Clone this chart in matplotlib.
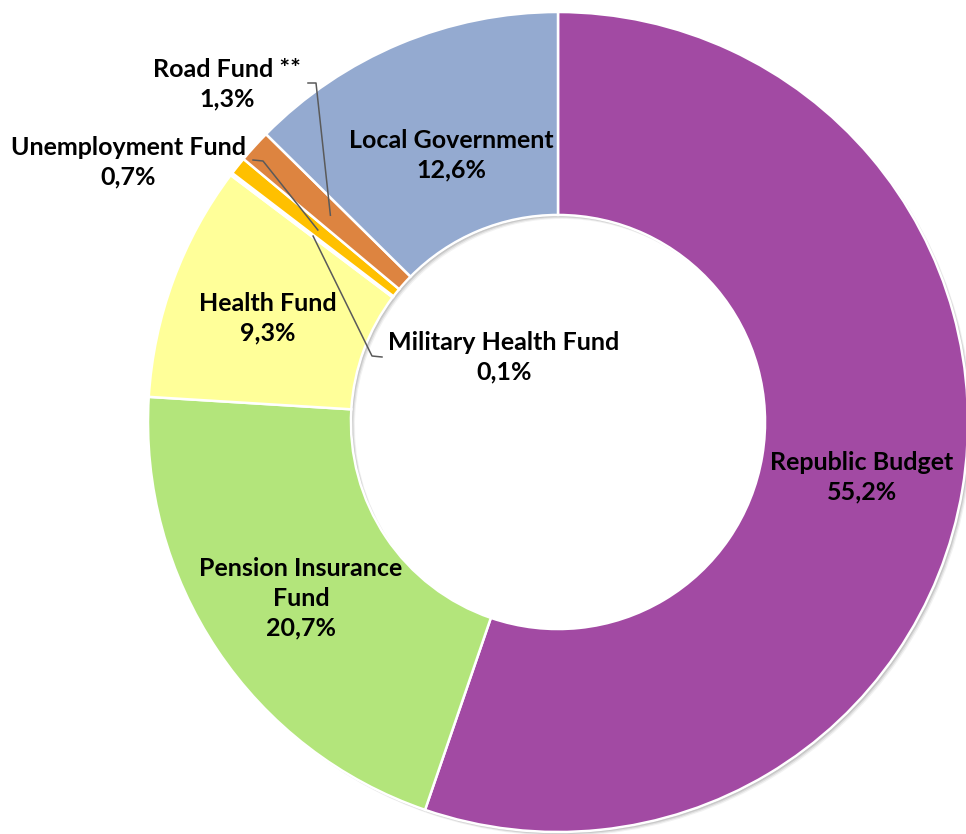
import numpy as np
import matplotlib
matplotlib.use("Agg")
import matplotlib.pyplot as plt

# data (clockwise from 12 o'clock)
names = ["Republic Budget", "Pension Insurance\nFund", "Health Fund",
         "Military Health Fund", "Unemployment Fund", "Road Fund **",
         "Local Government"]
shares = [55.2, 20.7, 9.3, 0.1, 0.7, 1.3, 12.6]
pct_labels = ["55,2%", "20,7%", "9,3%", "0,1%", "0,7%", "1,3%", "12,6%"]
colors = ["#A24AA3", "#B3E57B", "#FFFF99", "#A9C8EA", "#FFC000",
          "#DD8440", "#94AAD0"]

# layout in pixels of the 966x834 picture
CX, CY, R = 558, 422, 410


def px(x, y):
    return (x - CX) / R, (CY - y) / R


label_pos = {
    "Republic Budget": (862, 477),
    "Pension Insurance\nFund": (301, 598),
    "Health Fund": (268, 318),
    "Military Health Fund": (504, 357),
    "Unemployment Fund": (128, 162),
    "Road Fund **": (227, 84),
    "Local Government": (451, 155),
}
# elbows of the leader lines (label side)
leaders = {
    "Road Fund **": [(308, 83), (316, 83)],
    "Unemployment Fund": [(253, 160), (263, 161)],
    "Military Health Fund": [(382, 357), (372, 356)],
}

plt.rcParams["font.family"] = ["Lato", "DejaVu Sans"]

fig = plt.figure(figsize=(9.66, 8.34), dpi=100)
ax = fig.add_axes([0, 0, 1, 1])

# soft shadow
for k, a in [(1.0, 0.10), (2.0, 0.10), (3.0, 0.08), (4.0, 0.05)]:
    ax.pie(shares, startangle=90, counterclock=False, radius=1,
           colors=["#000000"] * len(shares), center=(k / R, -k / R),
           wedgeprops=dict(width=0.495, alpha=a, linewidth=0), frame=True)

wedges, _ = ax.pie(shares, startangle=90, counterclock=False, radius=1,
                   colors=colors, frame=True,
                   wedgeprops=dict(width=0.495, edgecolor="white", linewidth=1.8))

ax.set_xlim(-CX / R, (966 - CX) / R)
ax.set_ylim(-(834 - CY) / R, CY / R)
ax.set_aspect("equal")
ax.axis("off")

for name, pct in zip(names, pct_labels):
    x, y = px(*label_pos[name])
    ax.text(x, y, name + "\n" + pct, ha="center", va="center",
            fontsize=18, fontweight="bold", color="black", linespacing=1.35)

for w, name in zip(wedges, names):
    if name not in leaders:
        continue
    mid = np.deg2rad((w.theta1 + w.theta2) / 2)
    pts = [px(*p) for p in leaders[name]] + [(0.75 * np.cos(mid), 0.75 * np.sin(mid))]
    xs, ys = zip(*pts)
    ax.plot(xs, ys, color="#5a5a5a", lw=1.1)

fig.savefig("out.png", dpi=100)
